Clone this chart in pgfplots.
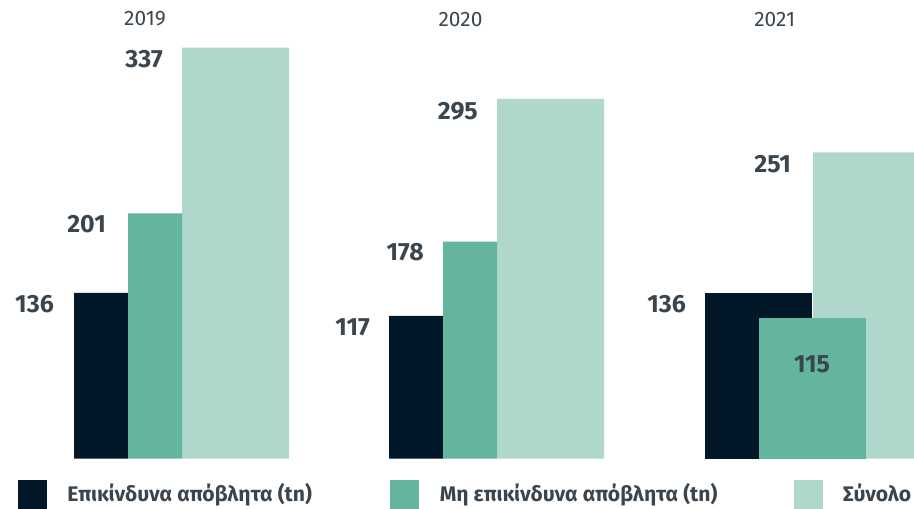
\documentclass[border=0pt]{standalone}
\usepackage{pgfplots}
\pgfplotsset{compat=1.18}
\usepackage{fontspec}
\setmainfont{Fira Sans}
\definecolor{haz}{HTML}{021727}
\definecolor{nonhaz}{HTML}{63B59E}
\definecolor{total}{HTML}{AFD7CB}
\definecolor{txt}{HTML}{3B454D}
\newcommand{\lgtxt}[2]{\raisebox{5.5bp}[28bp][0bp]{\makebox[#1][l]{#2}}}

\begin{document}
\begin{tikzpicture}[
  lbl/.style={font=\bfseries\fontsize{25}{28}\selectfont,text=txt,inner sep=0pt},
  yr/.style={font=\fontsize{21}{24}\selectfont,text=txt,inner sep=0pt}]
\begin{axis}[at={(0bp,50.3bp)},anchor=south west,scale only axis,
  width=914bp,height=458.7bp,xmin=0,xmax=914,ymin=0,ymax=376,
  hide axis,clip=false,
  legend columns=3,legend cell align=left,
  legend style={draw=none,fill=none,at={(axis cs:18,0)},anchor=north west,
    yshift=-20.3bp,inner sep=0pt,outer sep=0pt,
    font=\bfseries\fontsize{21.2}{24}\selectfont,text=txt,
    nodes={inner sep=0pt},
    /tikz/every odd column/.append style={column sep=21bp},
    /tikz/every even column/.append style={column sep=76bp}}]
% Σύνολο
\addplot[ybar,bar shift=0,bar width=107,fill=total,draw=none,forget plot]
  coordinates {(235.5,337) (550.5,295) (866.5,251)};
% Επικίνδυνα
\addplot[ybar,bar shift=0,bar width=54,fill=haz,draw=none,forget plot]
  coordinates {(101,136) (416,117)};
\addplot[ybar,bar shift=0,bar width=107,fill=haz,draw=none,forget plot]
  coordinates {(758.5,136)};
% Μη επικίνδυνα
\addplot[ybar,bar shift=0,bar width=54,fill=nonhaz,draw=none,forget plot]
  coordinates {(155,201) (470,178)};
\addplot[ybar,bar shift=0,bar width=107,fill=nonhaz,draw=none,forget plot]
  coordinates {(812.5,115)};

\addlegendimage{legend image code/.code={\fill[haz] (0bp,-14bp) rectangle (28bp,14bp);}}
\addlegendentry{\lgtxt{247bp}{Επικίνδυνα απόβλητα (tn)}}
\addlegendimage{legend image code/.code={\fill[nonhaz] (0bp,-14bp) rectangle (28bp,14bp);}}
\addlegendentry{\lgtxt{278bp}{Μη επικίνδυνα απόβλητα (tn)}}
\addlegendimage{legend image code/.code={\fill[total] (0bp,-14bp) rectangle (28bp,14bp);}}
\addlegendentry{\lgtxt{80bp}{Σύνολο}}

% value labels
\node[lbl,anchor=north east,yshift=-2bp] at (axis cs:54,136) {136};
\node[lbl,anchor=north east,yshift=-2bp] at (axis cs:106,201) {201};
\node[lbl,anchor=north east,yshift=-3bp] at (axis cs:163,337) {337};
\node[lbl,anchor=north east,yshift=-2bp] at (axis cs:370,117) {117};
\node[lbl,anchor=north east,yshift=-2bp] at (axis cs:424,178) {178};
\node[lbl,anchor=north east,yshift=-3bp] at (axis cs:478,295) {295};
\node[lbl,anchor=north east,yshift=-2bp] at (axis cs:686,136) {136};
\node[lbl,anchor=north east,yshift=-3bp] at (axis cs:791,251) {251};
\node[lbl,anchor=north,yshift=-37bp] at (axis cs:812,115) {115};
% years
\node[yr] at (axis cs:145,360.4) {2019};
\node[yr] at (axis cs:460.5,360.4) {2020};
\node[yr] at (axis cs:774.7,360.4) {2021};
\end{axis}
\pgfresetboundingbox
\path (0bp,0bp) rectangle (914bp,509bp);
\end{tikzpicture}
\end{document}
